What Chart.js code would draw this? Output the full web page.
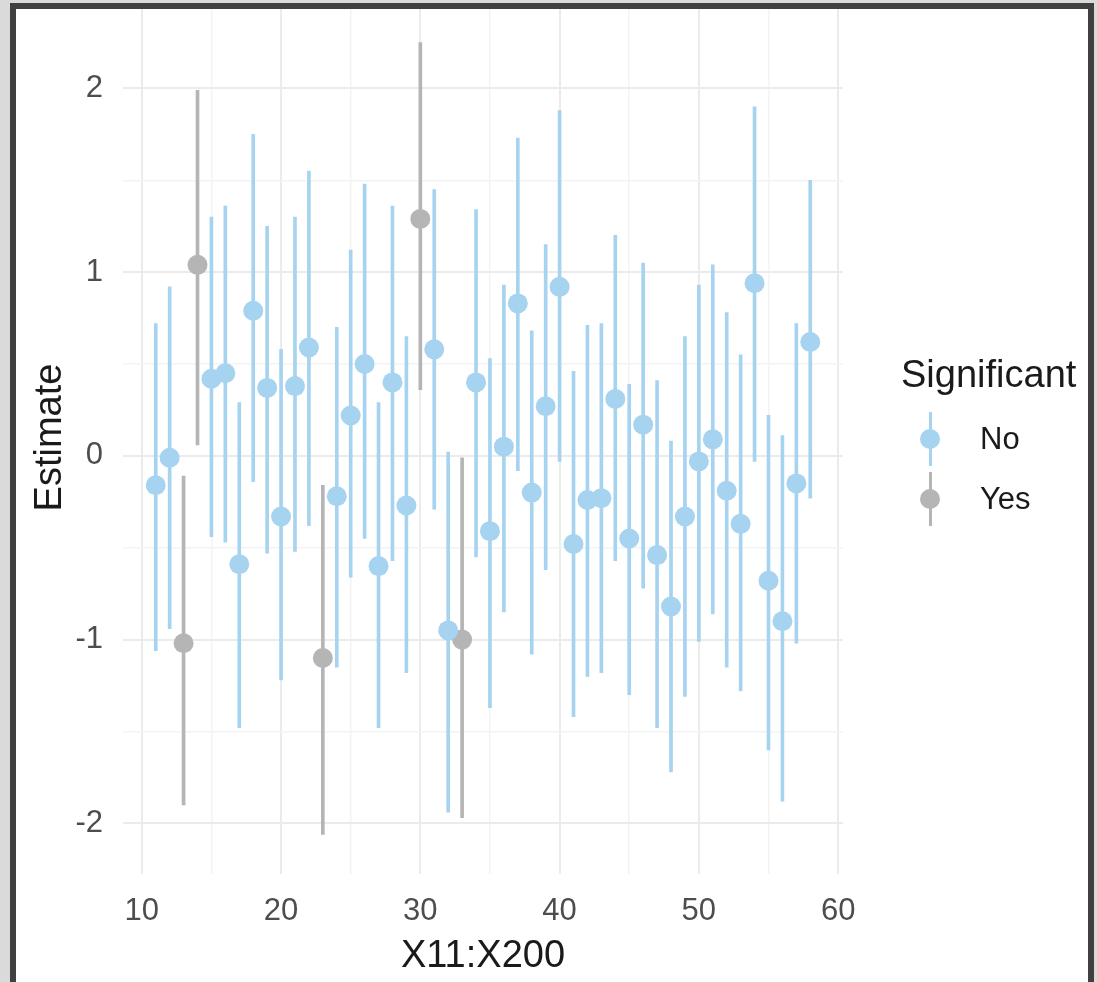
<!DOCTYPE html>
<html>
<head>
<meta charset="utf-8">
<script src="https://cdn.jsdelivr.net/npm/chart.js@4/dist/chart.umd.min.js"></script>
<style>
html,body{margin:0;padding:0;background:#ffffff;}
body{width:1097px;height:982px;position:relative;overflow:hidden;font-family:"Liberation Sans",Arial,sans-serif;}
#wrap{position:absolute;left:0;top:-9px;width:1097px;height:991px;}
.frame{position:absolute;pointer-events:none;}
.lg{position:absolute;white-space:nowrap;line-height:1;}
.keyline{position:absolute;width:3px;}
.keydot{position:absolute;width:20px;height:20px;border-radius:50%;}
</style>
</head>
<body>
<div id="wrap"><canvas id="c" width="1097" height="991"></canvas></div>

<!-- screenshot frame -->
<div class="frame" style="left:0;top:0;width:1097px;height:3px;background:#dadada"></div>
<div class="frame" style="left:0;top:0;width:10px;height:982px;background:#dadada"></div>
<div class="frame" style="left:1094px;top:0;width:3px;height:982px;background:#dadada"></div>
<div class="frame" style="left:10px;top:3px;width:1072px;height:1000px;border:6px solid #404040;border-bottom:none"></div>

<!-- legend -->
<div id="legend"></div>

<script>
// ---- data ----
const xValues = [11,12,13,14,15,16,17,18,19,20,21,22,23,24,25,26,27,28,29,30,31,32,33,34,35,36,37,38,39,40,41,42,43,44,45,46,47,48,49,50,51,52,53,54,55,56,57,58];
const estimates = [-0.16,-0.01,-1.02,1.04,0.42,0.45,-0.59,0.79,0.37,-0.33,0.38,0.59,-1.10,-0.22,0.22,0.50,-0.60,0.40,-0.27,1.29,0.58,-0.95,-1.00,0.40,-0.41,0.05,0.83,-0.20,0.27,0.92,-0.48,-0.24,-0.23,0.31,-0.45,0.17,-0.54,-0.82,-0.33,-0.03,0.09,-0.19,-0.37,0.94,-0.68,-0.90,-0.15,0.62];
const lowerCI = [-1.06,-0.94,-1.90,0.06,-0.44,-0.47,-1.48,-0.14,-0.53,-1.22,-0.52,-0.38,-2.06,-1.15,-0.66,-0.45,-1.48,-0.57,-1.18,0.36,-0.29,-1.94,-1.97,-0.55,-1.37,-0.85,-0.08,-1.08,-0.62,-0.03,-1.42,-1.20,-1.18,-0.57,-1.30,-0.72,-1.48,-1.72,-1.31,-1.01,-0.86,-1.15,-1.28,-0.03,-1.60,-1.88,-1.02,-0.23];
const upperCI = [0.72,0.92,-0.11,1.99,1.30,1.36,0.29,1.75,1.25,0.58,1.30,1.55,-0.16,0.70,1.12,1.48,0.29,1.36,0.65,2.25,1.45,0.02,-0.01,1.34,0.53,0.93,1.73,0.68,1.15,1.88,0.46,0.71,0.72,1.20,0.39,1.05,0.41,0.08,0.65,0.93,1.04,0.78,0.55,1.90,0.22,0.11,0.72,1.50];
const significant = ['No','No','Yes','Yes','No','No','No','No','No','No','No','No','Yes','No','No','No','No','No','No','Yes','No','No','Yes','No','No','No','No','No','No','No','No','No','No','No','No','No','No','No','No','No','No','No','No','No','No','No','No','No'];

const groups = ['No','Yes'];
const groupColors = {No:'#a6d3ef', Yes:'#b5b5b5'};

const xMajorTicks = [10,20,30,40,50,60];
const xMinorTicks = [15,25,35,45,55];
const yMajorTicks = [-2,-1,0,1,2];
const yMinorTicks = [-1.5,-0.5,0.5,1.5];
const xRange = [8.65, 60.35];
const yRange = [-2.276, 2.476];

const xTitle = 'X11:X200';
const yTitle = 'Estimate';
const legendTitle = 'Significant';

// ---- build datasets ----
const FONT = '"Liberation Sans", Arial, sans-serif';
const datasets = [];
groups.forEach(g => {
  const idx = xValues.map((_, i) => i).filter(i => significant[i] === g);
  datasets.push({
    type: 'bar',
    label: g + ' CI',
    data: idx.map(i => ({x: xValues[i], y: [lowerCI[i], upperCI[i]]})),
    backgroundColor: groupColors[g],
    borderWidth: 0,
    barThickness: 3,
    grouped: false,
    order: 2
  });
});
groups.forEach(g => {
  const idx = xValues.map((_, i) => i).filter(i => significant[i] === g);
  datasets.push({
    type: 'scatter',
    label: g,
    data: idx.map(i => ({x: xValues[i], y: estimates[i]})),
    pointRadius: 10,
    pointHoverRadius: 10,
    pointBackgroundColor: groupColors[g],
    pointBorderWidth: 0,
    showLine: false,
    order: 1
  });
});

function isIn(list, v){ return list.some(t => Math.abs(t - v) < 1e-9); }

const gridStyle = (majors) => ({
  drawTicks: false,
  offset: false,
  color: ctx => (ctx.tick && isIn(majors, ctx.tick.value)) ? '#ebebeb' : '#f3f3f3',
  lineWidth: ctx => (ctx.tick && isIn(majors, ctx.tick.value)) ? 2 : 1.5
});

new Chart(document.getElementById('c'), {
  type: 'bar',
  data: { datasets },
  options: {
    responsive: false,
    animation: false,
    events: [],
    layout: { padding: { left: 0, right: 254, top: 1, bottom: 0 } },
    plugins: { legend: { display: false }, tooltip: { enabled: false } },
    scales: {
      x: {
        type: 'linear',
        min: xRange[0], max: xRange[1],
        offset: false,
        afterBuildTicks: s => { s.ticks = xMajorTicks.concat(xMinorTicks).sort((a,b)=>a-b).map(v => ({value: v})); },
        afterFit: s => { s.height = 108; s.paddingLeft = 0; s.paddingRight = 0; },
        ticks: {
          autoSkip: false, maxRotation: 0, padding: 19,
          color: '#4d4d4d', font: { size: 31, family: FONT },
          callback: v => isIn(xMajorTicks, v) ? String(v) : ''
        },
        grid: gridStyle(xMajorTicks),
        border: { display: false },
        title: { display: true, text: xTitle, color: '#1a1a1a', font: { size: 38, family: FONT }, padding: { top: 0, bottom: 3 } }
      },
      y: {
        type: 'linear',
        min: yRange[0], max: yRange[1],
        afterBuildTicks: s => { s.ticks = yMajorTicks.concat(yMinorTicks).sort((a,b)=>a-b).map(v => ({value: v})); },
        afterFit: s => { s.width = 123; s.paddingTop = 0; s.paddingBottom = 0; },
        ticks: {
          autoSkip: false, padding: 20,
          color: '#4d4d4d', font: { size: 31, family: FONT },
          callback: v => isIn(yMajorTicks, v) ? String(v) : ''
        },
        grid: gridStyle(yMajorTicks),
        border: { display: false },
        title: { display: true, text: yTitle, color: '#1a1a1a', font: { size: 38, family: FONT }, padding: { top: 28, bottom: 0 } }
      }
    }
  }
});

// ---- legend (HTML) ----
const lg = document.getElementById('legend');
const t = document.createElement('div');
t.className = 'lg';
t.style.cssText = 'left:901px;top:355px;font-size:38px;color:#1a1a1a;';
t.textContent = legendTitle;
lg.appendChild(t);
groups.forEach((g, k) => {
  const cy = 439 + k * 60;
  const line = document.createElement('div');
  line.className = 'keyline';
  line.style.cssText = 'left:929px;top:' + (cy - 27) + 'px;height:54px;background:' + groupColors[g] + ';';
  lg.appendChild(line);
  const dot = document.createElement('div');
  dot.className = 'keydot';
  dot.style.cssText = 'left:920px;top:' + (cy - 10) + 'px;background:' + groupColors[g] + ';';
  lg.appendChild(dot);
  const lab = document.createElement('div');
  lab.className = 'lg';
  lab.style.cssText = 'left:980px;top:' + (cy - 16) + 'px;font-size:31px;color:#1a1a1a;';
  lab.textContent = g;
  lg.appendChild(lab);
});
</script>
</body>
</html>
